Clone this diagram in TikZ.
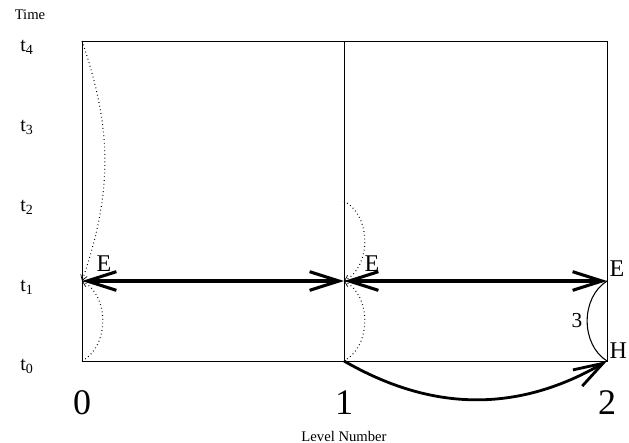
\documentclass[tikz,border=0pt]{standalone}
\usepackage{fontspec}
\setmainfont{Liberation Serif}
\usepackage{tikz}
\usetikzlibrary{arrows.meta, positioning, calc}

\begin{document}
\begin{tikzpicture}[x=0.75pt, y=-0.75pt,
  bigtip/.style={line width=2.3pt, {Straight Barb[length=22pt, width=14pt, line width=2.3pt]}-{Straight Barb[length=22pt, width=14pt, line width=2.3pt]}},
  hop/.style={line width=0.8pt, dash pattern=on 0.6pt off 2.2pt, -{Straight Barb[length=4pt, width=5pt, line width=0.5pt]}},
  tlab/.style={font=\fontsize{15}{17}\selectfont},
  lvl/.style={font=\fontsize{27}{30}\selectfont},
  ptlab/.style={font=\fontsize{18}{20}\selectfont, inner sep=1pt}]
  \useasboundingbox (0,0) rectangle (629,443);
  % grid points (level, time)
  \coordinate (a0) at (82,361);  \coordinate (a1) at (82,281);  \coordinate (a4) at (82,41);
  \coordinate (b0) at (344,361); \coordinate (b1) at (344,281); \coordinate (b2) at (344,201); \coordinate (b4) at (344,41);
  \coordinate (c0) at (607,361); \coordinate (c1) at (607,281); \coordinate (c4) at (607,41);
  % frame
  \draw[line width=0.6pt] (a4) -- (c4) -- (c0) -- (a0) -- cycle;
  \draw[line width=0.6pt] (b4) -- (b0);
  % time axis
  \node[font=\fontsize{11}{13}\selectfont] (time) at (30,15) {Time};
  \node[tlab] (t4) at (27,47) {t\textsubscript{4}};
  \node[tlab] (t3) at (27,127) {t\textsubscript{3}};
  \node[tlab] (t2) at (27,207) {t\textsubscript{2}};
  \node[tlab] (t1) at (27,287) {t\textsubscript{1}};
  \node[tlab] (t0) at (27,366) {t\textsubscript{0}};
  % level axis
  \node[lvl] (n0) at (82,403) {0};
  \node[lvl] (n1) at (344,403) {1};
  \node[lvl] (n2) at (607,403) {2};
  \node[font=\fontsize{11}{13}\selectfont] (lvlname) at (344,436) {Level Number};
  % dotted steps
  \draw[hop] (a4) to[bend left=19] (a1);
  \draw[hop] (a0) to[bend right=62] (a1);
  \draw[hop] (b2) to[bend left=62] (b1);
  \draw[hop] (b0) to[bend right=62] (b1);
  % exchanges
  \draw[bigtip] (a1) -- (b1);
  \draw[bigtip] (b1) -- (c1);
  \draw[line width=2.1pt, -{Straight Barb[length=22pt, width=14pt, line width=2.1pt]}] (b0) to[bend right=30] (c0);
  \draw[line width=0.8pt] (c0) to[bend left=58] node[left, font=\fontsize{16}{18}\selectfont] (three) {3} (c1);
  % labels
  \node[ptlab, anchor=south west] (e0) at (95,273) {E};
  \node[ptlab, anchor=south west] (e1) at (363,273) {E};
  \node[ptlab, anchor=south west] (e2) at (608,278) {E};
  \node[ptlab, anchor=south west] (h2) at (608,360) {H};
\end{tikzpicture}
\end{document}
